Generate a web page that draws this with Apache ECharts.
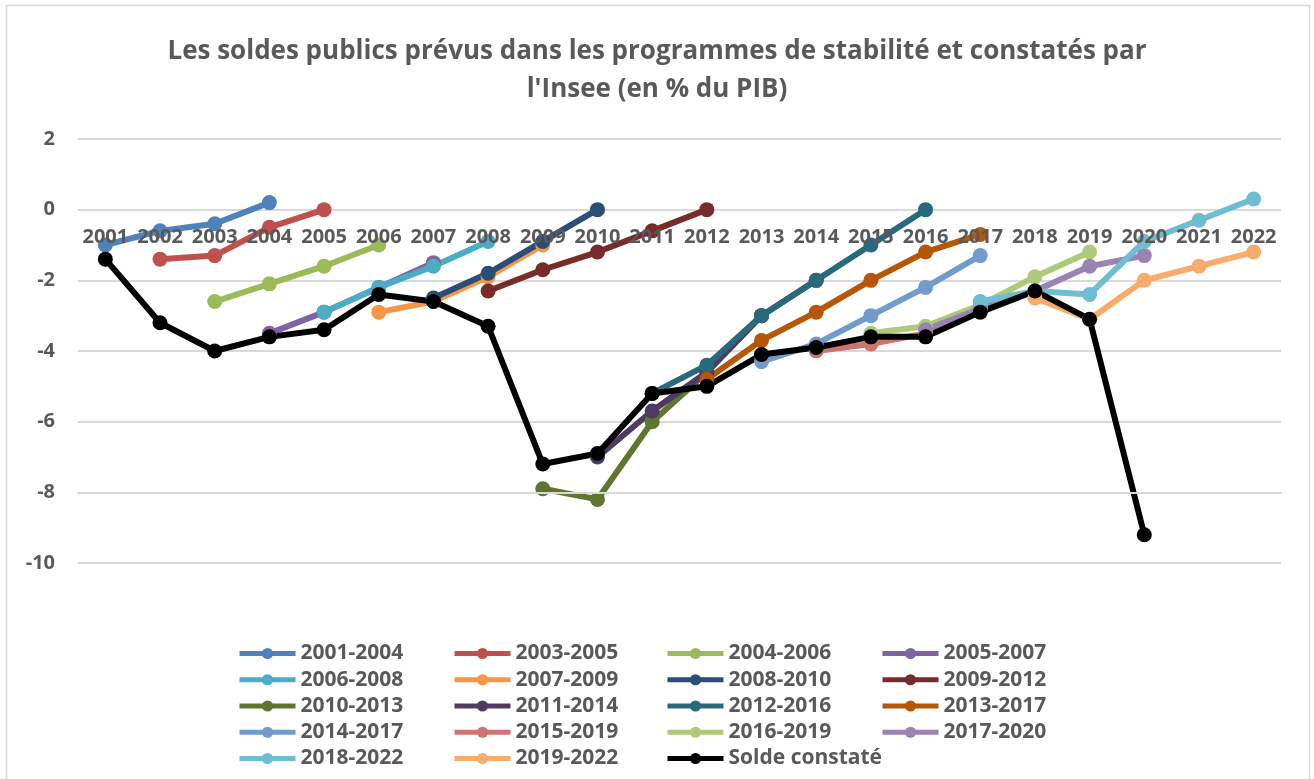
<!DOCTYPE html>
<html>
<head>
<meta charset="utf-8">
<script src="https://cdn.jsdelivr.net/npm/echarts@6/dist/echarts.min.js"></script>
<style>
html,body{margin:0;padding:0;background:#fff;}
#chart{width:1314px;height:779px;}
</style>
</head>
<body>
<div id="chart"></div>
<script>
const years = ['2001','2002','2003','2004','2005','2006','2007','2008','2009','2010','2011','2012','2013','2014','2015','2016','2017','2018','2019','2020','2021','2022'];
const yTicks = { min: -10, max: 2, interval: 2 };

const s2001_2004 = [-1.0, -0.6, -0.4, 0.2];
const s2003_2005 = [null, -1.4, -1.3, -0.5, 0.0];
const s2004_2006 = [null, null, -2.6, -2.1, -1.6, -1.0];
const s2005_2007 = [null, null, null, -3.5, -2.9, -2.2, -1.5];
const s2006_2008 = [null, null, null, null, -2.9, -2.2, -1.6, -0.9];
const s2007_2009 = [null, null, null, null, null, -2.9, -2.6, -1.9, -1.0];
const s2008_2010 = [null, null, null, null, null, null, -2.5, -1.8, -0.9, 0.0];
const s2009_2012 = [null, null, null, null, null, null, null, -2.3, -1.7, -1.2, -0.6, 0.0];
const s2010_2013 = [null, null, null, null, null, null, null, null, -7.9, -8.2, -6.0, -4.6, -3.0];
const s2011_2014 = [null, null, null, null, null, null, null, null, null, -7.0, -5.7, -4.6, -3.0, -2.0];
const s2012_2016 = [null, null, null, null, null, null, null, null, null, null, -5.2, -4.4, -3.0, -2.0, -1.0, 0.0];
const s2013_2017 = [null, null, null, null, null, null, null, null, null, null, null, -4.8, -3.7, -2.9, -2.0, -1.2, -0.7];
const s2014_2017 = [null, null, null, null, null, null, null, null, null, null, null, null, -4.3, -3.8, -3.0, -2.2, -1.3];
const s2015_2019 = [null, null, null, null, null, null, null, null, null, null, null, null, null, -4.0, -3.8, -3.5, -2.8];
const s2016_2019 = [null, null, null, null, null, null, null, null, null, null, null, null, null, null, -3.5, -3.3, -2.7, -1.9, -1.2];
const s2017_2020 = [null, null, null, null, null, null, null, null, null, null, null, null, null, null, null, -3.4, -2.8, -2.3, -1.6, -1.3];
const s2018_2022 = [null, null, null, null, null, null, null, null, null, null, null, null, null, null, null, null, -2.6, -2.3, -2.4, -0.9, -0.3, 0.3];
const s2019_2022 = [null, null, null, null, null, null, null, null, null, null, null, null, null, null, null, null, null, -2.5, -3.1, -2.0, -1.6, -1.2];
const soldeConstate = [-1.4, -3.2, -4.0, -3.6, -3.4, -2.4, -2.6, -3.3, -7.2, -6.9, -5.2, -5.0, -4.1, -3.9, -3.6, -3.6, -2.9, -2.3, -3.1, -9.2];

const seriesNames = ['2001-2004','2003-2005','2004-2006','2005-2007','2006-2008','2007-2009','2008-2010','2009-2012','2010-2013','2011-2014','2012-2016','2013-2017','2014-2017','2015-2019','2016-2019','2017-2020','2018-2022','2019-2022','Solde constaté'];
const seriesData = [s2001_2004,s2003_2005,s2004_2006,s2005_2007,s2006_2008,s2007_2009,s2008_2010,s2009_2012,s2010_2013,s2011_2014,s2012_2016,s2013_2017,s2014_2017,s2015_2019,s2016_2019,s2017_2020,s2018_2022,s2019_2022,soldeConstate];
const seriesColors = ['#4F81BD','#C0504D','#9BBB59','#8064A2','#4BACC6','#F79646','#2C4D75','#772C2A','#5F7530','#4D3B62','#276A7C','#B65708','#729ACA','#CD7371','#AFC97A','#9983B5','#6FBDD1','#F9AB6B','#000000'];

const FONT = '"Open Sans"';
const GRAY = '#595959';

const series = seriesNames.map((name, i) => ({
  name: name,
  type: 'line',
  data: seriesData[i],
  symbol: 'circle',
  symbolSize: 15,
  lineStyle: { width: 6, color: seriesColors[i] },
  itemStyle: { color: seriesColors[i] },
  emphasis: { disabled: true },
  z: 2
}));

function legendCol(left, names) {
  return {
    orient: 'vertical',
    left: left,
    top: 643,
    padding: 0,
    itemGap: 5.25,
    itemWidth: 56,
    itemHeight: 14,
    selectedMode: false,
    data: names,
    lineStyle: { width: 5 },
    textStyle: { fontFamily: FONT, fontWeight: 'bold', fontSize: 21, color: GRAY, lineHeight: 20 }
  };
}

const chart = echarts.init(document.getElementById('chart'), null, { renderer: 'canvas' });
chart.setOption({
  animation: false,
  backgroundColor: '#ffffff',
  title: {
    text: 'Les soldes publics prévus dans les programmes de stabilité et constatés par\nl\'Insee (en % du PIB)',
    left: 'center',
    top: 28,
    textStyle: { fontFamily: FONT, fontWeight: 'bold', fontSize: 26, color: GRAY, lineHeight: 38, align: 'center' }
  },
  graphic: [{
    type: 'rect',
    shape: { x: 6.5, y: 5.5, width: 1303, height: 790 },
    style: { fill: 'none', stroke: '#D9D9D9', lineWidth: 1.5 },
    silent: true
  }],
  legend: [
    legendCol(237, ['2001-2004','2006-2008','2010-2013','2014-2017','2018-2022']),
    legendCol(452, ['2003-2005','2007-2009','2011-2014','2015-2019','2019-2022']),
    legendCol(665, ['2004-2006','2008-2010','2012-2016','2016-2019','Solde constaté']),
    legendCol(880, ['2005-2007','2009-2012','2013-2017','2017-2020'])
  ],
  grid: { left: 78, right: 33, top: 139, bottom: 216 },
  xAxis: {
    type: 'category',
    data: years,
    boundaryGap: true,
    z: 5,
    axisLine: { show: true, onZero: true, lineStyle: { color: '#D9D9D9', width: 2 } },
    axisTick: { show: false },
    axisLabel: { interval: 0, margin: 18, fontFamily: FONT, fontWeight: 'bold', fontSize: 20, color: GRAY }
  },
  yAxis: {
    type: 'value',
    min: yTicks.min,
    max: yTicks.max,
    interval: yTicks.interval,
    axisLine: { show: false },
    axisTick: { show: false },
    splitLine: { lineStyle: { color: '#D9D9D9', width: 2 } },
    axisLabel: { margin: 23, fontFamily: FONT, fontWeight: 'bold', fontSize: 20, color: GRAY }
  },
  series: series
});

// Place the category axis where the value axis crosses 0 (Excel "axis crosses at 0")
const yZero = chart.convertToPixel({ yAxisIndex: 0 }, 0);
const yBottom = chart.convertToPixel({ yAxisIndex: 0 }, yTicks.min);
if (Math.abs(yBottom - yZero) > 1) {
  chart.setOption({ xAxis: { offset: -(yBottom - yZero) } });
}
</script>
</body>
</html>
